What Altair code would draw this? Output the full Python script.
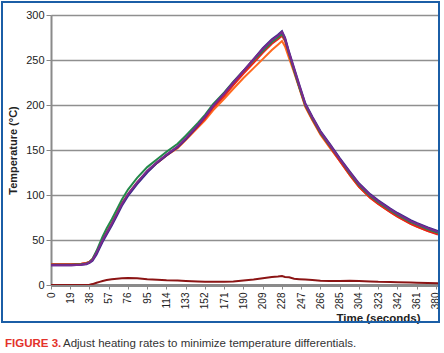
import altair as alt
import pandas as pd

time_s = [0, 10, 20, 30, 35, 38, 41, 45, 48, 51, 55, 60, 65, 70, 76, 85, 95, 105, 114, 125,
          133, 145, 152, 160, 171, 180, 190, 200, 209, 218, 224, 228, 231, 235, 240, 245, 251,
          258, 266, 275, 285, 295, 304, 315, 323, 335, 342, 355, 361, 372, 382]

purple = [22, 22, 22, 22.5, 23.5, 25, 28, 36, 43, 50, 58, 68, 79, 90, 101, 114, 127, 137, 145, 154,
          163, 178, 187, 199, 213, 225, 238, 251, 262, 272, 277, 281, 274, 258, 240, 222, 201,
          186, 170, 156, 140, 125, 112, 100, 93, 84, 79, 71, 68, 63, 59]
navy = [22, 22, 22, 22.5, 23, 24.5, 27, 34, 41, 48, 56, 66, 77, 88, 99, 112, 125, 136, 144, 153,
        162, 177, 187, 199, 213, 225, 238, 251, 263, 273, 278, 282, 275, 259, 241, 223, 202,
        187, 171, 157, 141, 126, 113, 101, 94, 85, 80, 72, 69, 64, 60]
green = [22.5, 22.5, 22.5, 23, 24, 25.5, 29, 38, 46, 54, 63, 73, 84, 95, 106, 119, 131, 140, 148, 157,
         166, 180, 189, 201, 214, 226, 238, 250, 260, 270, 275, 279, 273, 257, 238, 220, 200,
         185, 169, 155, 140, 124, 111, 99, 92, 83, 78, 70, 67, 62, 58]
orange = [23, 23, 23, 23.5, 24.5, 26, 29, 37, 44, 51, 59, 69, 80, 91, 101, 114, 126, 136, 144, 152,
          161, 175, 183, 194, 207, 218, 230, 241, 251, 261, 267, 271, 265, 252, 236, 219, 198,
          183, 167, 153, 138, 122, 109, 97, 90, 81, 76, 68, 65, 60, 57]
red = [23, 23, 23, 23.5, 24.5, 25.5, 28.5, 36, 43, 50, 58, 68, 79, 90, 100, 113, 126, 136, 144, 153,
       162, 176, 185, 197, 210, 222, 235, 247, 258, 268, 273, 277, 271, 256, 238, 220, 199,
       184, 168, 154, 138, 122, 109, 97, 90, 81, 76, 68, 65, 60, 56]
differential = [0, 0, 0, 0, 0, 0.3, 1, 2.5, 3.5, 4.5, 5.5, 6.5, 7, 7.5, 7.8, 7.5, 6.5, 5.8, 5.3, 5,
                4.5, 4, 3.5, 3.5, 3.5, 4, 5, 6, 7.5, 9, 9.5, 10, 9, 8.5, 7, 6.5, 6,
                5.5, 4.8, 4.5, 4.5, 4.7, 4.5, 4, 3.5, 3.2, 3, 2.8, 2.6, 2.3, 2]

x_ticks = [0, 19, 38, 57, 76, 95, 114, 133, 152, 171, 190, 209, 228, 247, 266, 285, 304, 323, 342, 361, 380]
y_ticks = [0, 50, 100, 150, 200, 250, 300]

series = [
    ("orange", orange, "#ff6a1f"),
    ("red", red, "#e8231c"),
    ("green", green, "#23894a"),
    ("navy", navy, "#3b2c8c"),
    ("purple", purple, "#7a2a8e"),
    ("diff", differential, "#8b1414"),
]

FONT = "Liberation Sans"
W, H = 387, 270

x_axis = alt.Axis(values=x_ticks, labelAngle=270, labelFontSize=10, labelColor="#222",
                  labelFont=FONT, labelPadding=3, tickSize=4, tickColor="#888",
                  domainColor="#8a8a8a", domainWidth=3, grid=False,
                  title="Time (seconds)", titleFont=FONT, titleFontSize=11.5,
                  titleFontWeight="bold", titleColor="#222",
                  titleX=327, titleY=33, titleBaseline="middle", titleAlign="center",
                  labelFlush=False, labelOverlap=False, labelBound=False)
y_axis = alt.Axis(values=y_ticks, labelFontSize=11, labelColor="#222", labelFont=FONT,
                  tickSize=5, tickColor="#888", domainColor="#8a8a8a", domainWidth=2,
                  gridColor="#8f8f8f", gridWidth=1.5,
                  title="Temperature (°C)", titleFont=FONT, titleFontSize=11,
                  titleFontWeight="bold", titleColor="#222", titlePadding=7)

layers = []
for name, vals, col in series:
    df = pd.DataFrame({"t": time_s, "v": vals})
    layers.append(alt.Chart(df).mark_line(color=col, strokeWidth=2, clip=True).encode(
        x=alt.X("t:Q", scale=alt.Scale(domain=[0, 382], nice=False, zero=False), axis=x_axis),
        y=alt.Y("v:Q", scale=alt.Scale(domain=[0, 300], nice=False), axis=y_axis),
    ))

frame = alt.Chart(pd.DataFrame({"a": [0]})).mark_rect(
    fill=None, stroke="#1b5ea6", strokeWidth=2, clip=False).encode(
    x=alt.value(-49), x2=alt.value(388), y=alt.value(-13), y2=alt.value(307))

cap1 = alt.Chart(pd.DataFrame({"s": ["FIGURE 3."]})).mark_text(
    align="left", baseline="middle", font=FONT, fontSize=11.5, fontWeight="bold",
    color="#e3322b").encode(text="s:N", x=alt.value(-46), y=alt.value(329))
cap2 = alt.Chart(pd.DataFrame({"s": ["Adjust heating rates to minimize temperature differentials."]})).mark_text(
    align="left", baseline="middle", font=FONT, fontSize=11.5,
    color="#333333").encode(text="s:N", x=alt.value(12), y=alt.value(329))

chart = alt.layer(*layers, frame, cap1, cap2).properties(
    width=W, height=H,
    autosize=alt.AutoSizeParams(type="none"),
    padding={"left": 51, "top": 15, "right": 6, "bottom": 68},
).configure_view(stroke=None).configure(background="white")

chart.save("out.html", embed_options={"renderer": "svg", "actions": False})
